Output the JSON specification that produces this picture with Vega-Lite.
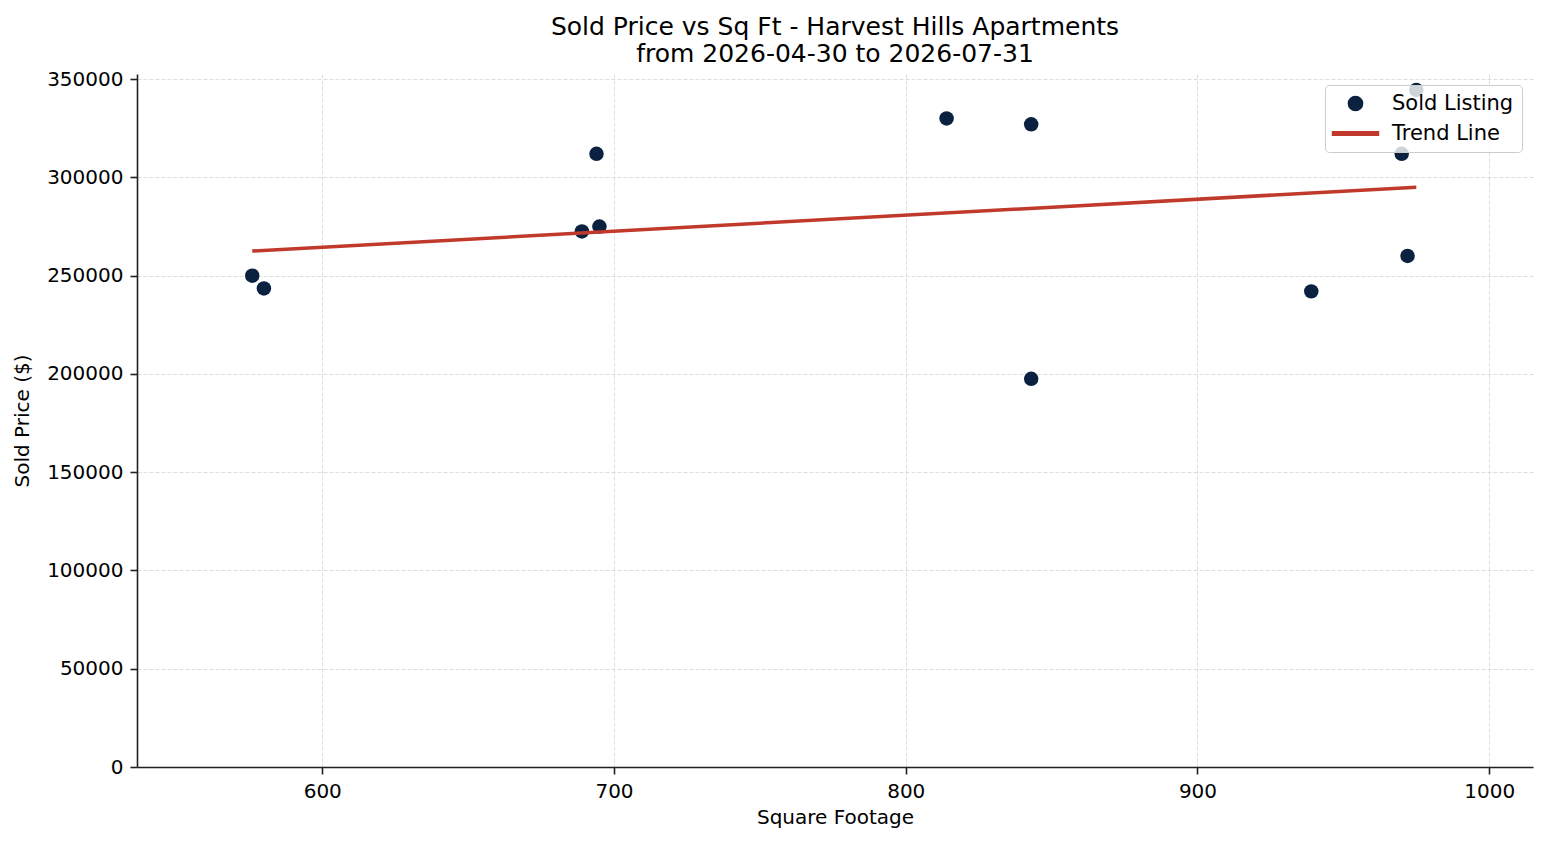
{
  "$schema": "https://vega.github.io/schema/vega-lite/v6.json",
  "width": 1396,
  "height": 693,
  "autosize": "none",
  "padding": {"left": 137, "top": 74, "right": 14, "bottom": 78},
  "background": "white",
  "config": {
    "font": "DejaVu Sans",
    "view": {"stroke": null},
    "axis": {
      "labelFont": "DejaVu Sans",
      "titleFont": "DejaVu Sans",
      "labelFontSize": 20,
      "titleFontSize": 20,
      "titleFontWeight": "normal",
      "labelColor": "black",
      "titleColor": "black",
      "domainColor": "#222222",
      "domainWidth": 1.6,
      "tickColor": "#222222",
      "tickWidth": 1.6,
      "tickSize": 7,
      "labelPadding": 7,
      "grid": true,
      "gridColor": "#d4d4d4",
      "gridWidth": 0.8,
      "gridDash": [4, 2]
    },
    "legend": {
      "labelFont": "DejaVu Sans",
      "labelFontSize": 21,
      "labelColor": "black",
      "orient": "top-right",
      "offset": 11,
      "padding": 8,
      "symbolSize": 200,
      "symbolOffset": 12,
      "labelOffset": 26,
      "rowPadding": 8,
      "strokeColor": "#cccccc",
      "fillColor": "rgba(255,255,255,0.8)",
      "cornerRadius": 4,
      "symbolOpacity": 1
    }
  },
  "title": {
    "text": ["Sold Price vs Sq Ft - Harvest Hills Apartments", "from 2026-04-30 to 2026-07-31"],
    "fontSize": 25,
    "fontWeight": "normal",
    "font": "DejaVu Sans",
    "color": "black",
    "lineHeight": 27,
    "anchor": "middle",
    "offset": 2
  },
  "layer": [
    {
      "data": {
        "values": [
          {"sqft": 576, "price": 250000, "series": "Sold Listing"},
          {"sqft": 580, "price": 243500, "series": "Sold Listing"},
          {"sqft": 689, "price": 272500, "series": "Sold Listing"},
          {"sqft": 694, "price": 312000, "series": "Sold Listing"},
          {"sqft": 695, "price": 275000, "series": "Sold Listing"},
          {"sqft": 814, "price": 330000, "series": "Sold Listing"},
          {"sqft": 843, "price": 327000, "series": "Sold Listing"},
          {"sqft": 843, "price": 197500, "series": "Sold Listing"},
          {"sqft": 939, "price": 242000, "series": "Sold Listing"},
          {"sqft": 970, "price": 312000, "series": "Sold Listing"},
          {"sqft": 972, "price": 260000, "series": "Sold Listing"},
          {"sqft": 975, "price": 344500, "series": "Sold Listing"}
        ]
      },
      "mark": {"type": "point", "filled": true, "size": 210, "opacity": 1},
      "encoding": {
        "x": {
          "field": "sqft",
          "type": "quantitative",
          "title": "Square Footage",
          "scale": {"domain": [536.5, 1015], "nice": false, "zero": false},
          "axis": {"values": [600, 700, 800, 900, 1000], "format": "d", "titlePadding": 6}
        },
        "y": {
          "field": "price",
          "type": "quantitative",
          "title": "Sold Price ($)",
          "scale": {"domain": [0, 352600], "nice": false},
          "axis": {"values": [0, 50000, 100000, 150000, 200000, 250000, 300000, 350000], "format": "d", "titlePadding": 14}
        },
        "color": {
          "field": "series",
          "type": "nominal",
          "title": null,
          "scale": {"domain": ["Sold Listing", "Trend Line"], "range": ["#0a2240", "#c0392b"]}
        },
        "shape": {
          "field": "series",
          "type": "nominal",
          "title": null,
          "scale": {"domain": ["Sold Listing", "Trend Line"], "range": ["circle", "M-3.25,-0.25H3.25V0.25H-3.25Z"]}
        }
      }
    },
    {
      "data": {
        "values": [
          {"sqft": 576, "price": 262500, "series": "Trend Line"},
          {"sqft": 975, "price": 295000, "series": "Trend Line"}
        ]
      },
      "mark": {"type": "line", "strokeWidth": 3.5},
      "encoding": {
        "x": {"field": "sqft", "type": "quantitative"},
        "y": {"field": "price", "type": "quantitative"},
        "color": {"field": "series", "type": "nominal"}
      }
    }
  ]
}
